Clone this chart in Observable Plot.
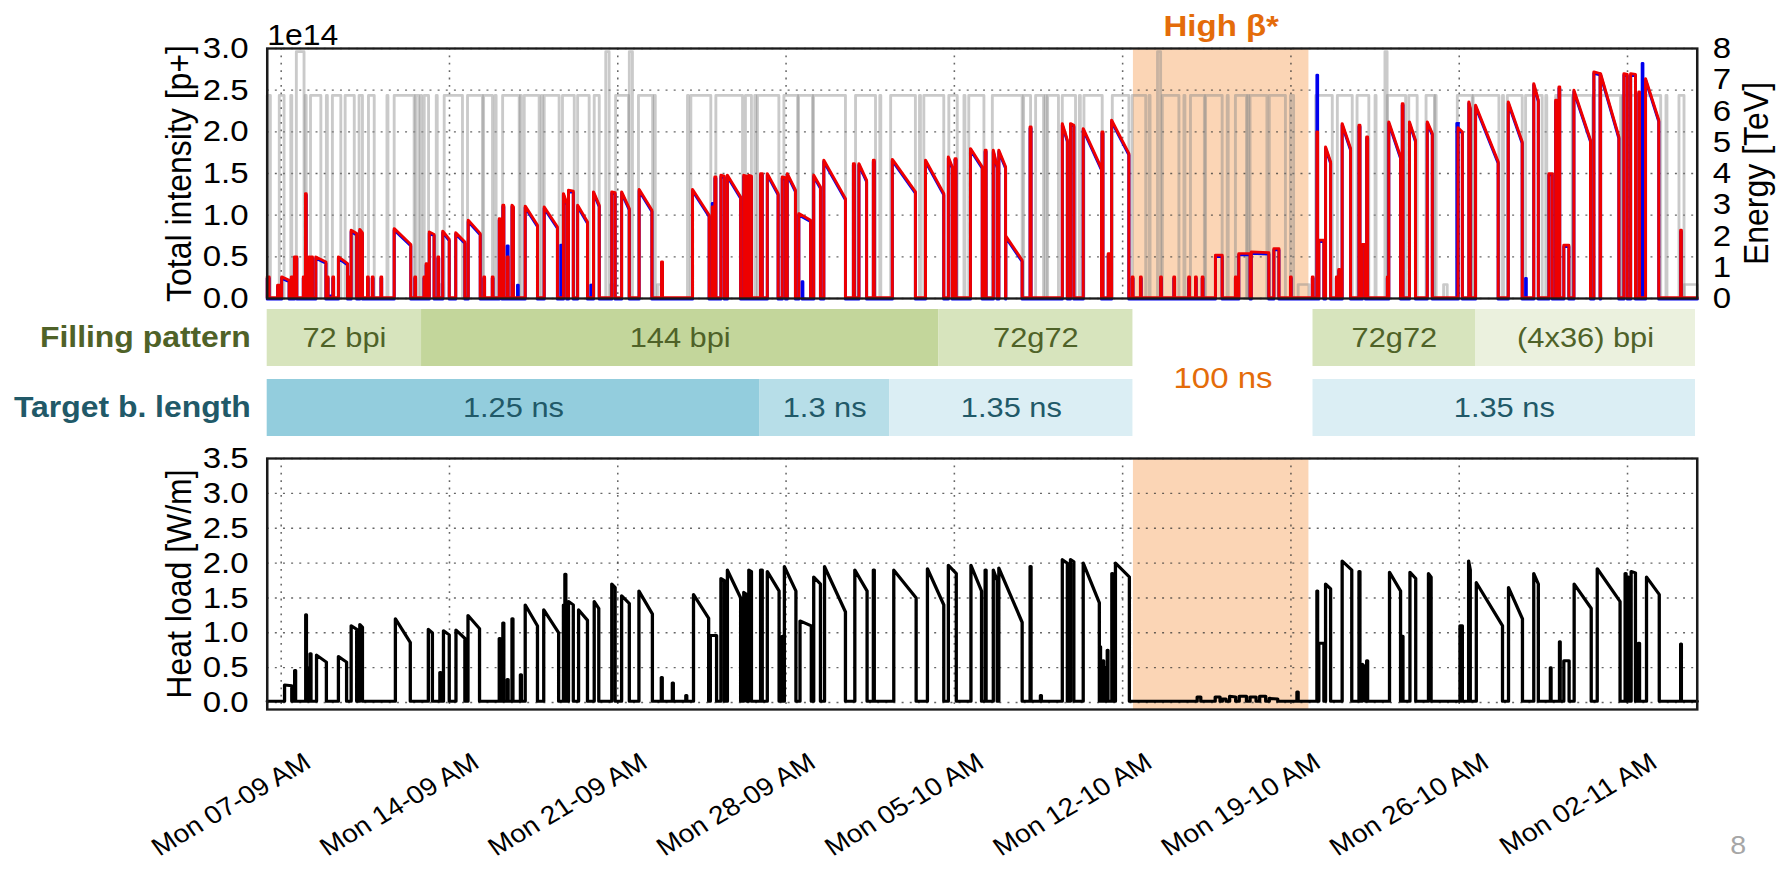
<!DOCTYPE html>
<html>
<head>
<meta charset="utf-8">
<script src="https://cdn.jsdelivr.net/npm/d3@7"></script>
<script src="https://cdn.jsdelivr.net/npm/@observablehq/plot@0.6"></script>
<style>
  html, body { margin: 0; padding: 0; background: #fff; overflow: hidden; }
  #page { position: relative; width: 1622px; height: 869px; transform: scaleX(1.1); transform-origin: 0 0;
          font-family: "Liberation Sans", Arial, sans-serif; }
  #pageno { position: absolute; left: 1573px; top: 830px; font-size: 26px; color: #a6a6a6; }
</style>
</head>
<body>
<div id="page"><div id="pageno">8</div></div>
<script>
// ---------------------------------------------------------------------------
// Time is expressed in days from Monday 07-09-2015 00:00 (UTC).
// ---------------------------------------------------------------------------
const DOMAIN_DAYS = [-0.58, 58.90];
const weekTickDays = [0, 7, 14, 21, 28, 35, 42, 49, 56];
const weekTickLabels = ["Mon 07-09 AM", "Mon 14-09 AM", "Mon 21-09 AM", "Mon 28-09 AM", "Mon 05-10 AM",
                        "Mon 12-10 AM", "Mon 19-10 AM", "Mon 26-10 AM", "Mon 02-11 AM"];
const intensityTicks = [0, 0.5, 1, 1.5, 2, 2.5, 3];          // 1e14 p+
const energyTicks = [0, 1, 2, 3, 4, 5, 6, 7, 8];             // TeV
const heatTicks = [0, 0.5, 1, 1.5, 2, 2.5, 3, 3.5];          // W/m

// High beta* period
const highBetaStart = 35.45, highBetaEnd = 42.75;

// Beam 1 total intensity, one entry per fill / injection (1e14 p+)
const fillStart = [-0.58,-0.15,0.02,0.42,0.55,0.92,1.01,1.07,1.16,1.26, 1.44,1.92,2.15,2.38,2.80,2.91,3.27,3.59,3.79,4.15,
  4.70,5.56,5.94,6.03,6.16,6.52,6.72,7.26,7.78,8.43, 8.78,9.07,9.22,9.40,9.60,10.15,10.94,11.74,11.95,12.33,
  12.99,13.75,14.16,14.89,15.82,17.11,17.93,18.04,18.29,18.56, 19.24,19.45,19.94,20.22,20.84,21.05,21.53,22.15,22.57,23.80,
  24.03,24.63,25.42,26.80,27.75,28.03,28.67,29.28,29.62,29.85, 30.14,31.15,32.49,32.83,33.36,34.14,34.40,34.54,35.40,35.74,
  36.58,37.13,37.75,38.03,38.31,38.86,39.69,39.83,40.35,41.29, 41.98,42.89,43.08,43.16,43.44,43.89,43.99,44.13,44.83,44.97,
  45.15,46.01,46.07,46.63,46.93,47.67,48.95,49.40,49.68,51.04, 52.10,52.73,53.01,53.15,53.35,53.77,54.60,54.88,55.85,56.13,
  56.47,56.75,58.21];
const fillEnd = [-0.50,-0.07,0.33,0.50,0.65,0.99,1.04,1.10,1.20,1.30, 1.86,1.95,2.18,2.76,2.88,3.14,3.38,3.62,3.82,4.18,
  5.39,5.59,5.97,6.06,6.36,6.55,6.99,7.64,8.28,8.46, 8.81,9.18,9.26,9.44,9.66,10.66,11.49,11.88,12.15,12.74,
  13.23,13.89,14.48,15.42,15.86,17.80,17.97,18.08,18.43,19.11, 19.36,19.56,20.01,20.67,20.98,21.39,22.02,22.43,23.47,23.84,
  24.35,24.67,26.38,27.56,27.91,28.07,29.16,29.32,29.78,30.13, 30.82,31.19,32.70,32.97,34.12,34.18,34.48,35.26,35.43,35.77,
  36.61,37.16,37.78,38.06,38.34,39.14,39.72,40.30,41.08,41.50, 42.01,42.92,43.11,43.37,43.65,43.92,44.02,44.48,44.87,45.10,
  45.19,46.04,46.56,46.66,47.18,47.88,49.13,49.46,50.62,51.62, 52.29,52.87,53.04,53.18,53.56,54.46,54.86,55.64,55.99,56.33,
  56.50,57.30,58.24];
const fillI0 = [0.26,0.16,0.26,0.26,0.50,0.26,1.26,0.50,0.50,0.50, 0.50,0.26,0.26,0.50,0.26,0.82,0.83,0.26,0.26,0.26,
  0.84,0.26,0.26,0.42,0.80,0.50,0.81,0.79,0.94,0.26, 0.26,0.96,1.12,0.50,1.12,1.11,1.10,1.26,1.30,1.12,
  1.28,1.28,1.28,1.31,0.44,1.31,1.10,1.46,1.48,1.48, 1.48,1.48,1.50,1.50,1.46,1.50,1.02,1.48,1.66,1.62,
  1.62,1.66,1.67,1.66,1.70,1.68,1.80,1.78,1.78,1.78, 0.75,2.06,2.10,2.10,2.04,2.00,0.54,2.14,0.26,0.26,
  0.26,0.26,0.26,0.26,0.26,0.52,0.26,0.54,0.56,0.60, 0.26,0.26,2.00,0.70,1.82,0.26,0.35,2.10,2.08,0.65,
  1.94,0.26,2.12,2.34,2.12,2.12,2.05,2.36,2.32,2.36, 2.58,1.50,2.38,2.54,0.64,2.50,2.72,2.70,2.70,2.70,
  2.48,2.64,0.82];
const fillI1 = [0.26,0.16,0.22,0.26,0.50,0.26,1.26,0.50,0.50,0.50, 0.44,0.26,0.26,0.42,0.26,0.78,0.79,0.26,0.26,0.26,
  0.65,0.26,0.26,0.42,0.77,0.50,0.71,0.68,0.78,0.26, 0.26,0.95,1.12,0.50,1.10,0.88,0.86,1.14,1.29,0.92,
  1.12,1.27,1.08,1.06,0.44,1.00,1.10,1.46,1.47,1.22, 1.47,1.47,1.50,1.26,1.45,1.30,0.94,1.34,1.20,1.62,
  1.42,1.66,1.28,1.26,1.58,1.68,1.58,1.78,1.58,1.58, 0.46,2.06,1.90,2.08,1.56,2.00,0.54,1.74,0.26,0.26,
  0.26,0.26,0.26,0.26,0.26,0.52,0.26,0.54,0.55,0.60, 0.26,0.26,2.00,0.70,1.64,0.26,0.35,1.80,2.08,0.65,
  1.94,0.26,1.70,2.34,1.90,1.98,2.00,2.28,1.64,1.88, 2.38,1.50,2.38,2.54,0.64,1.90,2.70,1.94,2.69,2.69,
  2.48,2.14,0.82];

// Beam 2 injections that differ from beam 1 (1e14 p+)
const b2Start = [2.04, 9.40, 9.83, 11.63, 12.88, 17.93, 19.30, 19.52, 21.67, 43.08, 48.90, 51.76, 56.61];
const b2End   = [2.06, 9.44, 9.86, 11.66, 12.91, 17.97, 19.33, 19.55, 21.70, 43.11, 48.96, 51.79, 56.64];
const b2Val   = [0.05, 0.65, 0.18, 0.66, 0.18, 1.16, 0.25, 0.25, 0.22, 2.70, 2.12, 0.26, 2.84];

// Beam energy cycles (TeV)
const energyStart = [-0.58,-0.08,0.40,0.63,1.00,1.16,1.22,1.88,2.13,2.66, 3.24,3.63,4.40,4.70,5.59,5.80,5.95,6.45,6.60,6.78,
  7.75,8.42,8.90,9.21,9.95,10.11,10.82,10.94,11.70,12.33, 12.90,13.02,13.50,13.70,13.91,14.48,14.86,15.52,15.65,16.90,
  17.04,17.92,18.08,19.31,19.70,19.81,20.91,21.52,22.14,23.89, 24.90,25.35,26.55,26.73,27.77,28.40,28.60,29.58,30.88,31.38,
  31.78,31.88,32.49,33.20,33.39,34.57,35.40,36.45,36.65,37.82, 38.45,39.69,40.30,41.10,41.98,42.30,43.03,43.93,44.75,45.50,
  45.91,46.01,46.90,47.62,48.00,48.35,48.92,49.58,50.80,51.00, 51.76,52.60,53.01,53.72,54.58,55.78,57.60,58.14,58.36,
  36.10,37.55,39.35,40.20];
const energyEnd = [-0.45,0.12,0.44,0.95,1.04,1.20,1.65,1.92,2.48,3.04, 3.38,3.87,4.44,5.53,5.72,5.84,6.13,6.49,6.72,7.54,
  8.37,8.79,8.94,9.90,9.99,10.73,10.86,11.56,12.19,12.81, 12.98,13.23,13.64,13.86,14.45,14.61,15.45,15.56,15.80,16.94,
  17.87,18.02,19.19,19.56,19.74,20.70,21.48,22.10,23.47,24.72, 24.94,26.38,26.59,27.56,28.12,28.44,29.23,30.82,31.17,31.71,
  31.82,32.33,33.04,33.24,34.15,35.26,35.96,36.58,37.34,38.40, 39.14,40.15,41.00,41.77,42.11,42.75,43.72,44.55,45.24,45.54,
  46.00,46.77,47.25,47.97,48.04,48.50,49.54,50.65,50.84,51.62, 52.45,52.64,53.70,54.55,55.71,57.38,57.64,58.35,58.90,
  36.14,37.59,39.39,40.24];
const energyLevel = [6.5,6.5,6.5,7.9,6.5,0.45,6.5,6.5,6.5,6.5, 6.5,6.5,6.5,6.5,6.5,6.5,6.5,6.5,0.45,6.5,
  6.5,6.5,6.5,6.5,6.5,6.5,6.5,6.5,6.5,6.5, 0.45,6.5,7.9,0.45,6.5,7.9,6.5,6.5,0.45,6.5,
  6.5,0.45,6.5,6.5,6.5,6.5,6.5,6.5,6.5,6.5, 6.5,6.5,6.5,6.5,6.5,6.5,6.5,6.5,6.5,6.5,
  6.5,6.5,6.5,6.5,6.5,6.5,6.5,7.9,6.5,6.5, 6.5,6.5,6.5,6.5,6.5,0.45,6.5,6.5,6.5,6.5,
  7.9,6.5,6.5,6.5,6.5,0.45,6.5,6.5,6.5,6.5, 6.5,6.5,6.5,6.5,6.5,6.5,6.5,6.5,0.45,
  6.5,6.5,6.5,6.5];

// Arc heat load (W/m)
const heatStart = [0.14,0.56,1.02,1.07,1.20,1.47,2.38,2.91,3.27,4.75, 6.12,6.60,6.75,7.27,7.77,9.07,9.22,9.40,9.60,9.95,
  10.15,10.92,11.74,11.80,11.95,12.37,13.02,13.75,14.16,14.88, 15.81,16.27,16.83,17.15,17.85,18.29,18.56,19.24,19.45,19.94,
  20.22,20.84,20.93,21.58,22.15,22.60,23.86,24.63,25.48,26.88, 27.75,28.69,29.28,29.62,29.85,31.15,31.58,32.49,32.83,33.36,
  34.05,34.18,34.28,34.36,34.55,34.70,38.10,38.85,39.15,39.45, 39.85,40.30,40.70,41.10,42.25,43.08,43.16,43.44,44.13,44.83,
  44.97,45.15,46.10,46.63,46.95,47.72,49.03,49.39,49.71,51.05, 52.10,52.79,53.17,53.35,53.78,54.74,55.90,56.00,56.15,56.45,
  56.79,58.21];
const heatEnd = [0.44,0.60,1.05,1.10,1.24,1.88,2.72,3.14,3.38,5.37, 6.29,6.64,6.99,7.64,8.25,9.11,9.26,9.44,9.64,9.99,
  10.66,11.54,11.78,11.84,12.15,12.74,13.21,13.89,14.48,15.44, 15.85,16.31,16.87,17.78,18.11,18.43,19.11,19.36,19.56,20.01,
  20.71,20.88,21.41,22.05,22.43,23.47,24.37,24.67,26.41,27.56, 28.08,29.13,29.32,29.78,30.82,31.19,31.62,32.70,32.97,34.03,
  34.08,34.21,34.31,34.39,34.58,35.28,38.25,39.05,39.30,39.70, 40.15,40.55,40.95,41.45,42.30,43.11,43.37,43.65,44.53,44.87,
  45.10,45.19,46.56,46.66,47.19,47.83,49.13,49.46,50.80,51.63, 52.29,52.82,53.20,53.57,54.49,55.69,55.94,56.04,56.33,56.50,
  57.32,58.24];
const heatQ0 = [0.25,0.46,1.26,0.50,0.70,0.68,0.66,1.10,1.12,1.20, 1.05,0.43,1.03,1.04,1.25,0.92,1.14,0.33,1.20,0.40,
  1.40,1.33,1.40,1.84,1.45,1.33,1.45,1.70,1.53,1.60, 0.36,0.28,0.10,1.55,0.96,1.78,1.90,1.58,1.90,1.90,
  1.88,0.95,1.95,1.17,1.80,1.95,1.90,1.90,1.90,1.92, 1.97,1.97,1.90,1.90,1.93,1.95,0.10,2.05,2.05,2.00,
  0.80,0.60,0.50,0.75,1.85,2.00,0.08,0.08,0.05,0.09, 0.09,0.08,0.09,0.06,0.15,1.60,0.85,1.70,2.03,1.88,
  0.55,0.60,1.87,0.95,1.87,1.85,1.10,2.03,1.72,1.65, 1.85,0.50,0.87,0.60,1.70,1.92,1.85,1.80,1.88,0.85,
  1.80,0.84];
const heatQ1 = [0.24,0.46,1.26,0.50,0.70,0.58,0.58,1.05,1.08,0.86, 1.00,0.43,0.97,0.92,1.06,0.92,1.14,0.33,1.20,0.40,
  1.10,1.00,1.40,1.84,1.40,1.18,1.35,1.65,1.42,1.27, 0.36,0.28,0.10,1.21,0.96,1.75,1.50,1.55,1.88,1.90,
  1.60,0.95,1.60,1.10,1.70,1.30,1.60,1.90,1.50,1.40, 1.85,1.60,1.90,1.75,1.15,1.95,0.10,2.00,2.02,1.43,
  0.80,0.60,0.50,0.75,1.85,1.80,0.08,0.08,0.05,0.08, 0.09,0.08,0.09,0.05,0.15,1.60,0.85,1.63,1.90,1.88,
  0.50,0.60,1.60,0.95,1.78,1.80,1.10,1.90,1.10,1.20, 1.70,0.50,0.87,0.60,1.35,1.45,1.85,1.80,1.86,0.85,
  1.55,0.84];

// Machine configuration bands
const rowNames = ["Filling pattern", "Target b. length"];
const fillingLabels = ["72 bpi", "144 bpi", "72g72", "72g72", "(4x36) bpi"];
const fillingStart = [-0.58, 5.84, 27.35, 42.92, 49.68];
const fillingEnd = [5.84, 27.35, 35.43, 49.68, 58.83];
const lengthLabels = ["1.25 ns", "1.3 ns", "1.35 ns", "1.35 ns"];
const lengthStart = [-0.58, 19.90, 25.31, 42.92];
const lengthEnd = [19.90, 25.31, 35.43, 58.83];

// ---------------------------------------------------------------------------
// Styling
// ---------------------------------------------------------------------------
const bandColor = {"72 bpi": "#D7E4BD", "144 bpi": "#C3D69B", "72g72": "#D7E4BD", "(4x36) bpi": "#EBF1DE",
                   "1.25 ns": "#93CDDD", "1.3 ns": "#B7DEE8", "1.35 ns": "#DBEEF4"};
const rowColor = {"Filling pattern": "#4F6228", "Target b. length": "#215968"};
const ORANGE = "#E46C0A", SHADE = "#FBD5B5";
const gridStyle = {stroke: "#333", strokeOpacity: 0.75, strokeWidth: 1.4, strokeDasharray: "1.8,5.6"};
const frameStyle = {stroke: "#1a1a1a", strokeWidth: 2.3};

const PAGE_W = 1622, ML = 242.45, MR = 79.55;
const T0 = Date.UTC(2015, 8, 7), DAY = 864e5;
const toDate = d => new Date(T0 + d * DAY);
const xScale = {type: "utc", domain: DOMAIN_DAYS.map(toDate)};
const weekTickDates = weekTickDays.map(toDate);
const labelByTime = new Map(weekTickDates.map((d, i) => [+d, weekTickLabels[i]]));
const svgStyle = {background: "transparent", overflow: "visible", fontFamily: "'Liberation Sans', Arial, sans-serif",
                  fontSize: "30px", color: "#000"};
const highBeta = [{t1: toDate(highBetaStart), t2: toDate(highBetaEnd), mid: toDate((highBetaStart + highBetaEnd) / 2)}];

// Step trace: baseline, jump to the start value, decay to the end value, back to baseline
function stepTrace(starts, ends, v0, v1, base) {
  const order = d3.range(starts.length).sort((a, b) => starts[a] - starts[b]);
  const pts = [{t: toDate(DOMAIN_DAYS[0]), v: base}];
  for (const i of order) {
    pts.push({t: toDate(starts[i]), v: base}, {t: toDate(starts[i]), v: v0[i]},
             {t: toDate(ends[i]), v: v1[i]}, {t: toDate(ends[i]), v: base});
  }
  pts.push({t: toDate(DOMAIN_DAYS[1]), v: base});
  return pts;
}

const beam1 = stepTrace(fillStart, fillEnd, fillI0, fillI1, 0.01);
const beam2 = stepTrace(fillStart.concat(b2Start), fillEnd.concat(b2End),
                        fillI0.concat(b2Val), fillI1.concat(b2Val), 0.01);
const heat = stepTrace(heatStart, heatEnd, heatQ0, heatQ1, 0.02);
const energy = energyStart.flatMap((s, i) => [
  {t: toDate(s), e: 0, k: i}, {t: toDate(s), e: energyLevel[i], k: i},
  {t: toDate(energyEnd[i]), e: energyLevel[i], k: i}, {t: toDate(energyEnd[i]), e: 0, k: i}]);

const page = document.getElementById("page");
function place(node, top) {
  node.style.position = "absolute"; node.style.left = "0px"; node.style.top = top + "px";
  page.appendChild(node);
}

// ---------------------------------------------------------------------------
// Top panel: intensity (left) and energy (right), three stacked layers
// ---------------------------------------------------------------------------
const topFrame = {width: PAGE_W, height: 305, marginTop: 48, marginBottom: 7, marginLeft: ML, marginRight: MR, style: svgStyle};

place(Plot.plot({
  ...topFrame,
  x: {...xScale, axis: null},
  y: {domain: [0, 3], axis: null},
  marks: [
    Plot.rect(highBeta, {x1: "t1", x2: "t2", y1: 0, y2: 3, fill: SHADE}),
    Plot.gridY(intensityTicks, gridStyle),
    Plot.gridX(weekTickDates, gridStyle)
  ]
}), 0);

place(Plot.plot({
  ...topFrame,
  x: {...xScale, axis: null},
  y: {domain: [0, 8]},
  marks: [
    Plot.line(energy, {x: "t", y: "e", z: "k", stroke: "#8a8a8a", strokeOpacity: 0.45, strokeWidth: 2.6}),
    Plot.axisY(energyTicks, {anchor: "right", tickSize: 0, tickPadding: 14, tickFormat: d => String(d),
                             fontSize: 30, label: null}),
    Plot.text(["Energy [TeV]"], {text: d => d, frameAnchor: "right", rotate: -90, dx: 54,
                                 textAnchor: "middle", lineAnchor: "middle", fontSize: 32})
  ]
}), 0);

place(Plot.plot({
  ...topFrame,
  x: {...xScale, axis: null},
  y: {domain: [0, 3]},
  marks: [
    Plot.line(beam2, {x: "t", y: "v", stroke: "#0000ee", strokeWidth: 2.7, dy: 1.5}),
    Plot.line(beam1, {x: "t", y: "v", stroke: "#ee0000", strokeWidth: 2.7}),
    Plot.axisY(intensityTicks, {anchor: "left", tickSize: 0, tickPadding: 17, tickFormat: d3.format(".1f"),
                                fontSize: 30, label: null}),
    Plot.text(["Total intensity [p+]"], {text: d => d, frameAnchor: "left", rotate: -90, dx: -80,
                                         textAnchor: "middle", lineAnchor: "middle", fontSize: 32}),
    Plot.text(["1e14"], {text: d => d, frameAnchor: "top-left", textAnchor: "start", lineAnchor: "bottom",
                         dy: -4, fontSize: 29}),
    Plot.text(highBeta, {x: "mid", text: () => "High β*", frameAnchor: "top", lineAnchor: "bottom", dy: -13,
                         fontSize: 30, fontWeight: "bold", fill: ORANGE}),
    Plot.frame(frameStyle)
  ]
}), 0);

// ---------------------------------------------------------------------------
// Middle: filling pattern and target bunch length
// ---------------------------------------------------------------------------
const bands = [
  ...fillingLabels.map((label, i) => ({row: rowNames[0], label, start: fillingStart[i], end: fillingEnd[i]})),
  ...lengthLabels.map((label, i) => ({row: rowNames[1], label, start: lengthStart[i], end: lengthEnd[i]}))
];

place(Plot.plot({
  width: PAGE_W, height: 127, marginTop: 0, marginBottom: 0, marginLeft: ML, marginRight: MR, style: svgStyle,
  x: {...xScale, axis: null},
  y: {type: "band", domain: rowNames, paddingInner: 0.186, paddingOuter: 0, axis: null},
  color: {type: "identity"},
  marks: [
    Plot.barX(bands, {x1: d => toDate(d.start), x2: d => toDate(d.end), y: "row", fill: d => bandColor[d.label]}),
    Plot.text(bands, {x: d => toDate((d.start + d.end) / 2), y: "row", text: "label",
                      fill: d => rowColor[d.row], fontSize: 28}),
    Plot.text(rowNames, {y: d => d, text: d => d, frameAnchor: "left", textAnchor: "end", dx: -15,
                         fill: d => rowColor[d], fontSize: 29, fontWeight: "bold"}),
    Plot.text([{t: toDate((fillingEnd[2] + fillingStart[3]) / 2)}], {x: "t", text: () => "100 ns",
                         frameAnchor: "middle", dy: 5, fill: ORANGE, fontSize: 30})
  ]
}), 309);

// ---------------------------------------------------------------------------
// Bottom panel: heat load
// ---------------------------------------------------------------------------
place(Plot.plot({
  width: PAGE_W, height: 429, marginTop: 18, marginBottom: 160, marginLeft: ML, marginRight: MR, style: svgStyle,
  x: xScale,
  y: {domain: [-0.1, 3.5]},
  marks: [
    Plot.rect(highBeta, {x1: "t1", x2: "t2", y1: -0.1, y2: 3.5, fill: SHADE}),
    Plot.gridY(heatTicks, gridStyle),
    Plot.gridX(weekTickDates, gridStyle),
    Plot.line(heat, {x: "t", y: "v", stroke: "#000", strokeWidth: 3}),
    Plot.axisY(heatTicks, {anchor: "left", tickSize: 0, tickPadding: 17, tickFormat: d3.format(".1f"),
                           fontSize: 30, label: null}),
    Plot.axisX(weekTickDates, {anchor: "bottom", tickSize: 0, tickPadding: 50, tickRotate: -33, dx: 24,
                               tickFormat: d => labelByTime.get(+d), fontSize: 25.5, label: null}),
    Plot.text(["Heat load [W/m]"], {text: d => d, frameAnchor: "left", rotate: -90, dx: -80,
                                    textAnchor: "middle", lineAnchor: "middle", fontSize: 32}),
    Plot.frame(frameStyle)
  ]
}), 440);
</script>
</body>
</html>
